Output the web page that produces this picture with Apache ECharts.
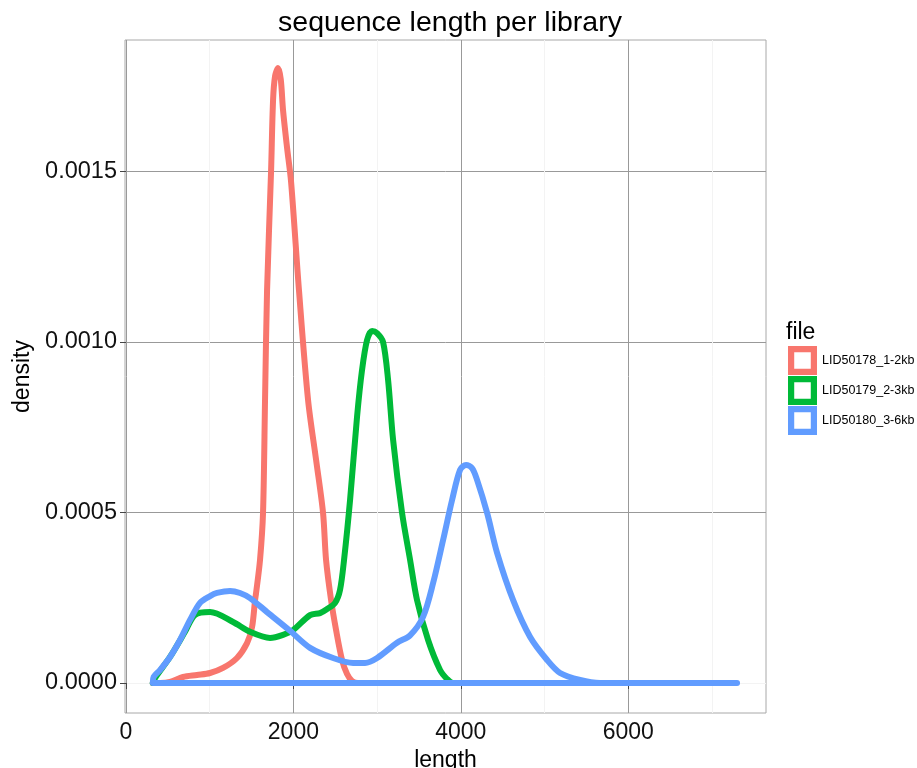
<!DOCTYPE html>
<html>
<head>
<meta charset="utf-8">
<script src="https://cdn.jsdelivr.net/npm/echarts@6/dist/echarts.min.js"></script>
<style>
  html, body { margin: 0; padding: 0; background: #fff; }
  #chart { width: 917px; height: 768px; }
</style>
</head>
<body>
<div id="chart"></div>
<script>
// Kernel density outlines of read length, one closed outline per library
const libraries = ['LID50178_1-2kb', 'LID50179_2-3kb', 'LID50180_3-6kb'];
const colors = ['#F8766D', '#00BA38', '#619CFF'];

// [length, density]
const density178 = [
  [320, 0], [406, 0], [526, 0.000003], [681, 0.0000176], [848, 0.0000235],
  [1004, 0.0000293], [1159, 0.000044], [1326, 0.0000733], [1446, 0.000117],
  [1506, 0.000164], [1542, 0.000243], [1554, 0.000264], [1601, 0.000361],
  [1637, 0.000499], [1661, 0.00083], [1685, 0.00115], [1733, 0.0015],
  [1757, 0.00171], [1781, 0.00178], [1817, 0.0018035], [1849, 0.00177],
  [1876, 0.00168], [1924, 0.00157], [1972, 0.00147], [2067, 0.00115],
  [2175, 0.00083], [2271, 0.000654], [2354, 0.000499], [2390, 0.000361],
  [2450, 0.000243], [2510, 0.000155], [2581, 0.0000675], [2641, 0.0000264],
  [2701, 0.0000059], [2773, 0], [3200, 0]
];
const density179 = [
  [320, 0], [347, 0.0000147], [526, 0.0000763], [705, 0.00015], [825, 0.0002],
  [1004, 0.000208], [1279, 0.000179], [1482, 0.00015], [1721, 0.000132],
  [1876, 0.000141], [1996, 0.000155], [2199, 0.000199], [2318, 0.000205],
  [2402, 0.000217], [2498, 0.000235], [2557, 0.000273], [2605, 0.000361],
  [2677, 0.000537], [2760, 0.00078], [2820, 0.000918], [2880, 0.001006],
  [2940, 0.001032], [2999, 0.001026], [3071, 0.001], [3131, 0.000889],
  [3191, 0.000713], [3298, 0.000499], [3394, 0.000361], [3477, 0.000243],
  [3609, 0.000126], [3752, 0.0000381], [3836, 0.0000117], [3908, 0], [4500, 0]
];
const density180 = [
  [320, 0], [330, 0.0000176], [406, 0.000038], [526, 0.0000763], [645, 0.000126],
  [765, 0.000185], [884, 0.000235], [1004, 0.000255], [1087, 0.000264],
  [1243, 0.00027], [1362, 0.000264], [1482, 0.000249], [1685, 0.000208],
  [1960, 0.000153], [2199, 0.000103], [2474, 0.0000733], [2713, 0.0000587],
  [2856, 0.0000587], [3000, 0.0000733], [3238, 0.000118], [3394, 0.00014],
  [3549, 0.000194], [3669, 0.000293], [3788, 0.000419], [3896, 0.000537],
  [3991, 0.000625], [4063, 0.000639], [4135, 0.00063], [4195, 0.000595],
  [4314, 0.000499], [4434, 0.000381], [4625, 0.000243], [4828, 0.000135],
  [5031, 0.0000675], [5186, 0.0000293], [5425, 0.0000088], [5664, 0], [7300, 0]
];

const xTicks = [0, 2000, 4000, 6000];
const xMinor = [1000, 3000, 5000, 7000];
const yTicks = [0, 0.0005, 0.001, 0.0015];
const yMinor = [0.00025, 0.00075, 0.00125, 0.00175];

// close each outline back along the baseline
function closed(points) {
  return points.concat([[points[0][0], 0]]);
}

const allDensity = [density178, density179, density180];
const FONT = '"Liberation Sans", Arial, sans-serif';

const minorLines = [];
xMinor.forEach(v => minorLines.push({ xAxis: v }));
yMinor.forEach(v => minorLines.push({ yAxis: v }));

const series = [{
  name: '__minor',
  type: 'line',
  data: [],
  z: 0,
  silent: true,
  markLine: {
    z: 0,
    silent: true,
    symbol: 'none',
    label: { show: false },
    lineStyle: { color: '#f3f3f3', width: 1, type: 'solid' },
    emphasis: { disabled: true },
    animation: false,
    data: minorLines
  }
}];
libraries.forEach((name, i) => {
  series.push({
    name: name,
    type: 'line',
    data: closed(allDensity[i]),
    showSymbol: false,
    symbol: 'none',
    smooth: 0.3,
    z: 3 + i,
    color: colors[i],
    itemStyle: { color: colors[i], borderWidth: 0 },
    lineStyle: { color: colors[i], width: 6, cap: 'round', join: 'round' },
    emphasis: { disabled: true },
    animation: false
  });
});

const chart = echarts.init(document.getElementById('chart'), null, { renderer: 'canvas' });
chart.setOption({
  animation: false,
  backgroundColor: '#ffffff',
  title: [{
    text: 'sequence length per library',
    left: 445,
    top: 4,
    textAlign: 'center',
    textStyle: { fontFamily: FONT, fontSize: 28.5, fontWeight: 'normal', color: '#000' }
  }, {
    text: 'file',
    left: 781,
    top: 316,
    textStyle: { fontFamily: FONT, fontSize: 23, fontWeight: 'normal', color: '#000' }
  }],
  grid: {
    left: 125, top: 40, right: 151, bottom: 55,
    outerBoundsMode: 'none',
    containLabel: false,
    show: true, borderColor: '#a8a8a8', borderWidth: 1, backgroundColor: 'transparent'
  },
  legend: {
    data: libraries,
    orient: 'vertical',
    left: 783,
    top: 341,
    itemWidth: 29,
    itemHeight: 29,
    itemGap: 1,
    icon: 'path://M0,0H28V28H0Z M6,6V22H22V6Z',
    itemStyle: { borderWidth: 0 },
    textStyle: { fontFamily: FONT, fontSize: 12.5, color: '#000' },
    selectedMode: false
  },
  xAxis: {
    type: 'value',
    min: -12,
    max: 7646,
    name: 'length',
    nameLocation: 'middle',
    nameGap: 31,
    nameTextStyle: { fontFamily: FONT, fontSize: 23, color: '#000' },
    axisLine: { show: false },
    axisTick: { show: true, length: 6, customValues: xTicks, lineStyle: { color: '#444' } },
    axisLabel: {
      customValues: xTicks, margin: 8, fontFamily: FONT, fontSize: 23, color: '#111',
      formatter: v => String(v)
    },
    splitLine: { show: true, lineStyle: { color: '#999', width: 1 } }
  },
  yAxis: {
    type: 'value',
    min: -0.000088,
    max: 0.0018856,
    name: 'density',
    nameLocation: 'middle',
    nameGap: 75,
    nameTextStyle: { fontFamily: FONT, fontSize: 23, color: '#000' },
    axisLine: { show: false },
    axisTick: { show: true, length: 6, customValues: yTicks, lineStyle: { color: '#444' } },
    axisLabel: {
      customValues: yTicks, margin: 8, fontFamily: FONT, fontSize: 23.5, color: '#111',
      formatter: v => v.toFixed(4)
    },
    splitLine: { show: true, lineStyle: { color: '#999', width: 1 } }
  },
  series: series
});
</script>
</body>
</html>
